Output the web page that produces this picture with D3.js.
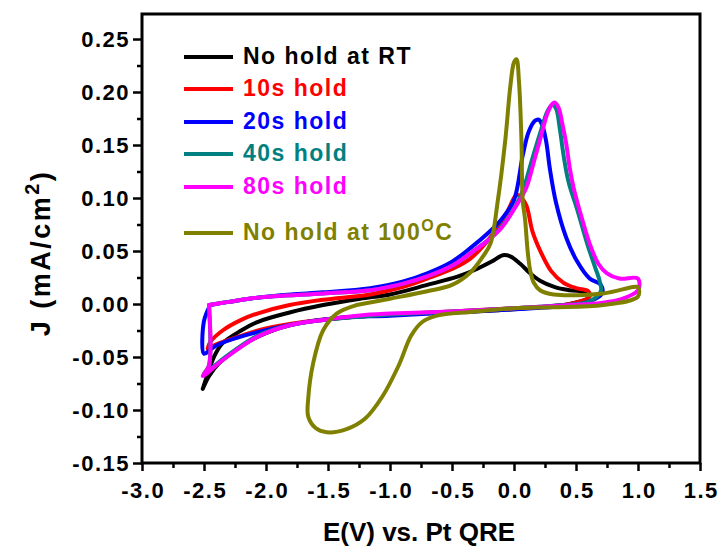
<!DOCTYPE html>
<html>
<head>
<meta charset="utf-8">
<script src="https://cdn.jsdelivr.net/npm/d3@7"></script>
<style>
html,body{margin:0;padding:0;background:#fff;}
svg{display:block;}
</style>
</head>
<body>
<svg id="chart" width="718" height="550"></svg>
<script>
// ---- data (E in V vs Pt QRE, J in mA/cm^2) ----
const seriesNames = ["No hold at RT", "10s hold", "20s hold", "40s hold", "80s hold", "No hold at 100"];
const seriesColors = ["#000000", "#ff0000", "#0000ff", "#008080", "#ff00ff", "#808000"];

const noHoldRT = [[-2.51,-0.080],[-2.47,-0.066],[-2.42,-0.050],[-2.35,-0.037],[-2.20,-0.025],[-2.07,-0.017],[-1.81,-0.008],[-1.54,-0.001],[-1.24,0.005],[-1.00,0.009],[-0.70,0.018],[-0.45,0.026],[-0.30,0.033],[-0.18,0.040],[-0.09,0.046],[-0.03,0.045],[0.05,0.038],[0.13,0.029],[0.21,0.022],[0.33,0.016],[0.45,0.013],[0.58,0.011],[0.60,0.006],[0.45,0.000],[0.20,-0.003],[0.00,-0.005],[-0.50,-0.008],[-1.00,-0.010],[-1.54,-0.015],[-1.81,-0.020],[-2.07,-0.031],[-2.25,-0.044],[-2.38,-0.056],[-2.46,-0.068],[-2.51,-0.080]];

const hold10 = [[-2.47,-0.042],[-2.45,-0.036],[-2.35,-0.025],[-2.20,-0.015],[-2.07,-0.009],[-1.81,-0.001],[-1.54,0.004],[-1.16,0.009],[-0.90,0.016],[-0.70,0.024],[-0.50,0.033],[-0.35,0.043],[-0.17,0.066],[-0.05,0.088],[0.02,0.103],[0.06,0.100],[0.10,0.093],[0.15,0.068],[0.22,0.048],[0.30,0.031],[0.40,0.020],[0.50,0.015],[0.60,0.012],[0.61,0.007],[0.45,0.000],[0.20,-0.003],[0.00,-0.004],[-0.50,-0.007],[-1.00,-0.010],[-1.40,-0.013],[-1.70,-0.017],[-2.00,-0.023],[-2.20,-0.030],[-2.40,-0.038],[-2.47,-0.042]];

const hold20 = [[-2.45,-0.001],[-2.30,0.002],[-2.07,0.006],[-1.80,0.009],[-1.54,0.011],[-1.16,0.015],[-0.90,0.021],[-0.70,0.029],[-0.50,0.040],[-0.35,0.053],[-0.20,0.068],[-0.10,0.080],[0.00,0.098],[0.07,0.140],[0.12,0.163],[0.17,0.173],[0.20,0.174],[0.23,0.168],[0.26,0.153],[0.29,0.127],[0.34,0.095],[0.42,0.063],[0.51,0.040],[0.61,0.024],[0.70,0.018],[0.71,0.010],[0.60,0.002],[0.40,-0.002],[0.00,-0.005],[-0.50,-0.008],[-1.00,-0.011],[-1.40,-0.013],[-1.67,-0.017],[-1.94,-0.023],[-2.21,-0.031],[-2.38,-0.038],[-2.45,-0.043],[-2.50,-0.047],[-2.50,-0.016],[-2.45,-0.001]];

const hold40 = [[-2.46,-0.001],[-2.30,0.002],[-2.07,0.006],[-1.54,0.010],[-1.16,0.013],[-0.90,0.019],[-0.70,0.026],[-0.50,0.036],[-0.35,0.048],[-0.20,0.061],[-0.10,0.073],[0.02,0.094],[0.08,0.110],[0.14,0.134],[0.21,0.161],[0.27,0.182],[0.31,0.188],[0.34,0.184],[0.37,0.165],[0.40,0.140],[0.44,0.115],[0.51,0.089],[0.59,0.057],[0.65,0.036],[0.69,0.022],[0.70,0.012],[0.60,0.002],[0.40,-0.001],[0.00,-0.004],[-0.50,-0.007],[-1.00,-0.010],[-1.54,-0.015],[-1.81,-0.020],[-2.07,-0.030],[-2.35,-0.052],[-2.50,-0.066],[-2.46,-0.058],[-2.46,-0.001]];

const hold80 = [[-2.46,-0.001],[-2.30,0.002],[-2.07,0.006],[-1.54,0.010],[-1.16,0.013],[-0.90,0.019],[-0.70,0.026],[-0.50,0.036],[-0.35,0.048],[-0.20,0.061],[-0.10,0.072],[0.02,0.093],[0.10,0.110],[0.16,0.134],[0.21,0.155],[0.27,0.180],[0.31,0.189],[0.33,0.190],[0.36,0.185],[0.39,0.170],[0.42,0.152],[0.45,0.128],[0.48,0.110],[0.53,0.088],[0.61,0.057],[0.68,0.038],[0.75,0.029],[0.85,0.024],[1.00,0.024],[1.00,0.013],[0.85,0.004],[0.70,0.001],[0.45,-0.001],[0.00,-0.004],[-0.50,-0.007],[-1.00,-0.009],[-1.16,-0.010],[-1.54,-0.015],[-1.81,-0.020],[-2.07,-0.031],[-2.35,-0.053],[-2.51,-0.068],[-2.46,-0.058],[-2.46,-0.001]];

const noHold100 = [[-1.27,-0.001],[-1.00,0.005],[-0.70,0.012],[-0.50,0.018],[-0.35,0.030],[-0.25,0.045],[-0.19,0.057],[-0.13,0.098],[-0.07,0.155],[-0.03,0.205],[0.00,0.228],[0.02,0.231],[0.04,0.210],[0.06,0.155],[0.07,0.098],[0.09,0.079],[0.11,0.050],[0.13,0.032],[0.16,0.020],[0.21,0.013],[0.32,0.009],[0.72,0.010],[0.96,0.016],[1.00,0.016],[1.00,0.007],[0.72,-0.001],[0.30,-0.003],[0.00,-0.004],[-0.35,-0.0075],[-0.62,-0.011],[-0.74,-0.017],[-0.83,-0.030],[-0.93,-0.058],[-1.06,-0.087],[-1.20,-0.108],[-1.35,-0.118],[-1.51,-0.121],[-1.60,-0.117],[-1.66,-0.106],[-1.66,-0.090],[-1.62,-0.056],[-1.54,-0.025],[-1.43,-0.009],[-1.27,-0.001]];

const allSeries = [noHoldRT, hold10, hold20, hold40, hold80, noHold100];

const xTicks = [-3.0,-2.5,-2.0,-1.5,-1.0,-0.5,0.0,0.5,1.0,1.5];
const yTicks = [-0.15,-0.10,-0.05,0.00,0.05,0.10,0.15,0.20,0.25];
const xMinor = [-2.75,-2.25,-1.75,-1.25,-0.75,-0.25,0.25,0.75,1.25];
const yMinor = [-0.125,-0.075,-0.025,0.025,0.075,0.125,0.175,0.225];

// ---- layout ----
const L = 142, R = 700, T = 14, B = 463;
const FONT = "'Liberation Sans', Arial, Helvetica, sans-serif";

const svg = d3.select("#chart");
const x = d3.scaleLinear().domain([-3.0, 1.5]).range([L, R]);
const y = d3.scaleLinear().domain([-0.15, 0.2736]).range([B, T]);

const clipId = "plotclip";
svg.append("defs").append("clipPath").attr("id", clipId)
  .append("rect").attr("x", L).attr("y", T).attr("width", R - L).attr("height", B - T);

// curves
const line = d3.line().x(d => x(d[0])).y(d => y(d[1])).curve(d3.curveCatmullRom.alpha(0.5));
const plot = svg.append("g").attr("clip-path", `url(#${clipId})`);
allSeries.forEach((s, i) => {
  plot.append("path").datum(s)
    .attr("d", line)
    .attr("fill", "none")
    .attr("stroke", seriesColors[i])
    .attr("stroke-width", 4)
    .attr("stroke-linejoin", "round")
    .attr("stroke-linecap", "round");
});

// axes
const fmtX = v => v.toFixed(1);
const fmtY = v => v.toFixed(2);

const xAxis = svg.append("g").attr("transform", `translate(0,${B})`)
  .call(d3.axisBottom(x).tickValues(xTicks).tickFormat(fmtX).tickSize(8).tickPadding(11).tickSizeOuter(0));
const xAxisMinor = svg.append("g").attr("transform", `translate(0,${B})`)
  .call(d3.axisBottom(x).tickValues(xMinor).tickFormat("").tickSize(5).tickSizeOuter(0));
const yAxis = svg.append("g").attr("transform", `translate(${L},0)`)
  .call(d3.axisLeft(y).tickValues(yTicks).tickFormat(fmtY).tickSize(9).tickPadding(3).tickSizeOuter(0));
const yAxisMinor = svg.append("g").attr("transform", `translate(${L},0)`)
  .call(d3.axisLeft(y).tickValues(yMinor).tickFormat("").tickSize(5).tickSizeOuter(0));

[xAxis, xAxisMinor, yAxis, yAxisMinor].forEach(g => {
  g.select(".domain").remove();
  g.selectAll(".tick line").attr("stroke", "#000").attr("stroke-width", 2.5);
  g.selectAll(".tick text")
    .attr("fill", "#000")
    .style("font-family", FONT)
    .style("font-weight", "bold")
    .style("font-size", "22px")
    .style("letter-spacing", "1.5px");
});
xAxis.selectAll(".tick text").attr("dx", "0.75px");

// frame
svg.append("rect").attr("x", L).attr("y", T).attr("width", R - L).attr("height", B - T)
  .attr("fill", "none").attr("stroke", "#000").attr("stroke-width", 3);

// axis titles
svg.append("text")
  .attr("x", (L + R) / 2 - 2).attr("y", 541)
  .attr("text-anchor", "middle")
  .style("font-family", FONT).style("font-weight", "bold").style("font-size", "26px")
  .text("E(V) vs. Pt QRE");

const yl = svg.append("text")
  .attr("transform", "translate(50,253) rotate(-90)")
  .attr("text-anchor", "middle")
  .style("font-family", FONT).style("font-weight", "bold").style("font-size", "27px")
  .style("letter-spacing", "2.5px");
yl.append("tspan").text("J (mA/cm");
yl.append("tspan").attr("dy", -11).style("font-size", "20px").text("2");
yl.append("tspan").attr("dy", 11).text(")");

// legend
const legendY = [57, 89, 122, 154, 187, 233];
const lg = svg.append("g");
seriesNames.forEach((name, i) => {
  lg.append("line")
    .attr("x1", 184).attr("x2", 233)
    .attr("y1", legendY[i]).attr("y2", legendY[i])
    .attr("stroke", seriesColors[i]).attr("stroke-width", 4);
  const t = lg.append("text")
    .attr("x", 243).attr("y", legendY[i] + 6.5)
    .attr("fill", seriesColors[i])
    .style("font-family", FONT).style("font-weight", "bold").style("font-size", "23px")
    .style("letter-spacing", "1.5px");
  t.append("tspan").text(name);
  if (i === 5) {
    t.append("tspan").attr("dy", -9).style("font-size", "16px").text("O");
    t.append("tspan").attr("dy", 9).text("C");
  }
});
</script>
</body>
</html>
